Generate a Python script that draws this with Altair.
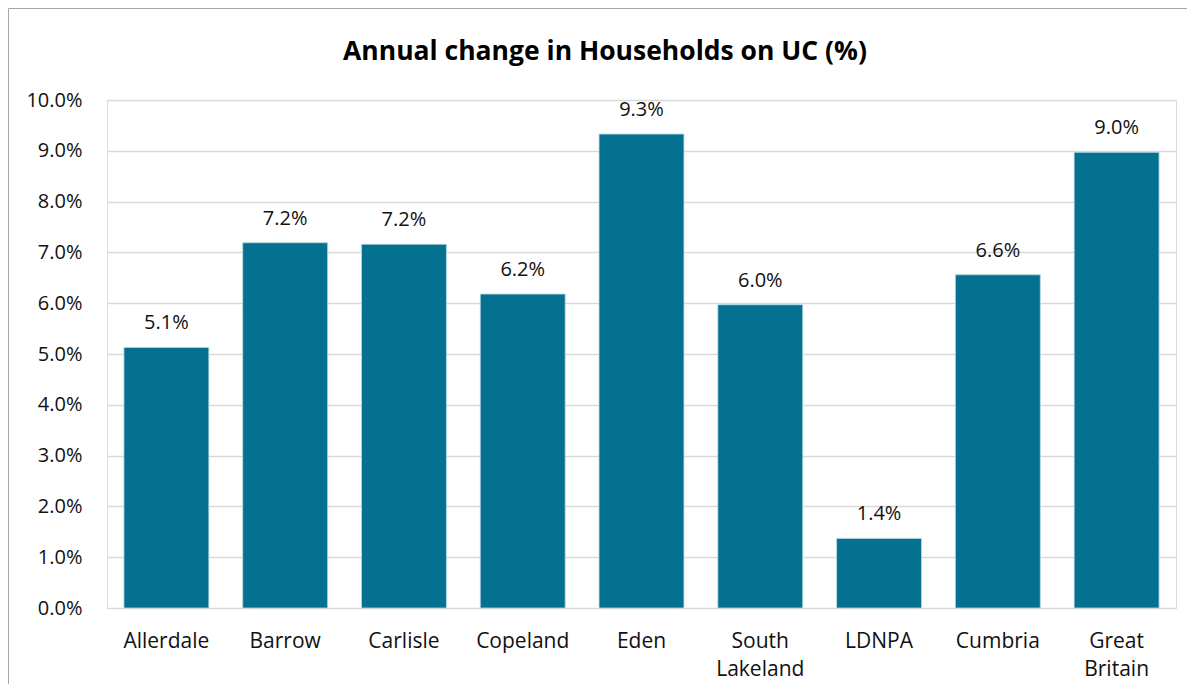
import altair as alt
import pandas as pd

categories = ["Allerdale", "Barrow", "Carlisle", "Copeland", "Eden",
              "South Lakeland", "LDNPA", "Cumbria", "Great Britain"]
values = [0.0513, 0.0719, 0.0716, 0.0618, 0.0933, 0.0597, 0.0137, 0.0656, 0.0897]
y_ticks = [0.0, 0.01, 0.02, 0.03, 0.04, 0.05, 0.06, 0.07, 0.08, 0.09, 0.10]
title_text = "Annual change in Households on UC (%)"

df = pd.DataFrame({"area": categories, "change": values})

W, H = 1069, 508
FONT = "Open Sans"
BAR = "#03718F"

x_enc = alt.X(
    "area:N", sort=categories, title=None,
    scale=alt.Scale(paddingInner=0.285, paddingOuter=0.1425),
    axis=alt.Axis(labelAngle=0, labelFont=FONT, labelFontSize=21, labelColor="#111111",
                  labelPadding=39, labelBaseline="alphabetic", labelLineHeight=28,
                  labelExpr="split(datum.label, ' ')", ticks=False, domain=False,
                  grid=False),
)
y_enc = alt.Y(
    "change:Q", title=None,
    scale=alt.Scale(domain=[0, 0.1], nice=False),
    axis=alt.Axis(format=".1%", values=y_ticks, grid=True, gridColor="#d9d9d9",
                  gridWidth=1.5, ticks=False, domain=False, labelPadding=25,
                  labelFont=FONT, labelFontSize=20, labelColor="#111111"),
)

base = alt.Chart(df)

bars = base.mark_bar(color=BAR, stroke="#b8dbe4", strokeWidth=0.8).encode(x=x_enc, y=y_enc)

labels = base.mark_text(dy=-18, baseline="alphabetic", font=FONT, fontSize=20,
                        color="#111111").encode(
    x=alt.X("area:N", sort=categories),
    y=alt.Y("change:Q"),
    text=alt.Text("change:Q", format=".1%"),
)

one = pd.DataFrame({"k": [0]})
title = alt.Chart(one).mark_text(text=title_text, font=FONT, fontSize=26.5, fontWeight="bold",
                                 align="center", baseline="alphabetic",
                                 color="#000000").encode(
    x=alt.value(498), y=alt.value(-40))

border = alt.Chart(one).mark_rect(filled=False, stroke="#a6a6a6", strokeWidth=1).encode(
    x=alt.value(-98.5), x2=alt.value(1400), y=alt.value(-91.5), y2=alt.value(900))

chart = alt.layer(border, bars, labels, title).properties(
    width=W, height=H,
    autosize=alt.AutoSizeParams(type="none"),
    padding={"left": 99, "top": 92, "right": 11, "bottom": 76},
).configure_view(stroke=None).configure(background="white")

chart.save("out.html", embed_options={"renderer": "svg", "actions": False})
